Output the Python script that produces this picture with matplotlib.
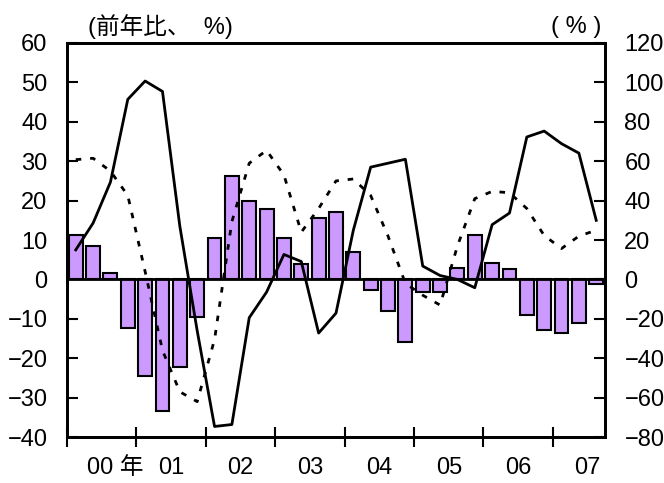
import numpy as np
import matplotlib
matplotlib.use('Agg')
import matplotlib.pyplot as plt

plt.rcParams['font.family'] = ['Liberation Sans', 'Noto Sans CJK JP']

# quarterly, 2000Q1 - 2007Q3
bars = [11.3, 8.4, 1.6, -12.3, -24.5, -33.3, -22.3, -9.6,
        10.6, 26.2, 19.9, 18.0, 10.5, 3.8, 15.6, 17.0,
        6.9, -2.8, -8.1, -15.9, -3.3, -3.3, 3.0, 11.3,
        4.3, 2.7, -8.9, -12.8, -13.5, -11.0, -1.1]
solid = [15, 28.6, 49.4, 91.4, 100.7, 95.4, 27, -26,
         -74.6, -73.6, -19.4, -6.4, 12.7, 9.1, -27.2, -17.1,
         25, 57, 59, 61, 6.8, 2, 0, -4.2,
         27.8, 33.7, 72.3, 75.3, 68.9, 64.1, 30]
dotted = [60.8, 61.5, 55, 42.6, 4, -36, -57, -62,
          -30.5, 29.4, 59, 65.5, 53, 24, 36, 50,
          51, 42.6, 22, -2, -8, -13, 17, 41,
          44.7, 44, 36, 22.3, 15.7, 22, 25]
year_labels = ['00 年', '01', '02', '03', '04', '05', '06', '07']

x = np.arange(len(bars))

fig = plt.figure(figsize=(6.64, 4.83), dpi=100)
ax = fig.add_axes([0.101, 0.095, 0.81, 0.816])
ax.bar(x, bars, width=0.8, color='#CC99FF', edgecolor='black', linewidth=1.5, zorder=2)
ax.axhline(0, color='black', lw=2, zorder=3)
ax.set_xlim(-0.5, len(bars) - 0.5)
ax.set_ylim(-40, 60)
ax.set_yticks(range(-40, 61, 10))

ax2 = ax.twinx()
ax2.plot(x, solid, color='black', lw=2)
ax2.plot(x, dotted, color='black', lw=2, linestyle=(0, (2, 3.2)))
ax2.set_ylim(-80, 120)
ax2.set_yticks(range(-80, 121, 20))

ax.set_xticks(np.arange(-0.5, len(bars), 4))
ax.set_xticklabels([])
ax.set_xticks([2.3] + [1.5 + 4 * i for i in range(1, 8)], minor=True)
ax.set_xticklabels(year_labels, minor=True, fontsize=17)
ax.tick_params(axis='x', which='major', direction='inout', length=14, width=1.5)
ax.tick_params(axis='x', which='minor', length=0, pad=14)
ax.tick_params(axis='y', direction='in', length=8, width=1.5, labelsize=17, pad=14)
ax2.tick_params(axis='y', direction='in', length=8, width=1.5, labelsize=17, pad=14)

for a in (ax, ax2):
    for s in a.spines.values():
        s.set_linewidth(2)

fig.text(0.133, 0.945, '(前年比、  %)', fontsize=17, va='center', ha='left')
fig.text(0.905, 0.945, '( % )', fontsize=17, va='center', ha='right')

fig.savefig('out.png', dpi=100)
